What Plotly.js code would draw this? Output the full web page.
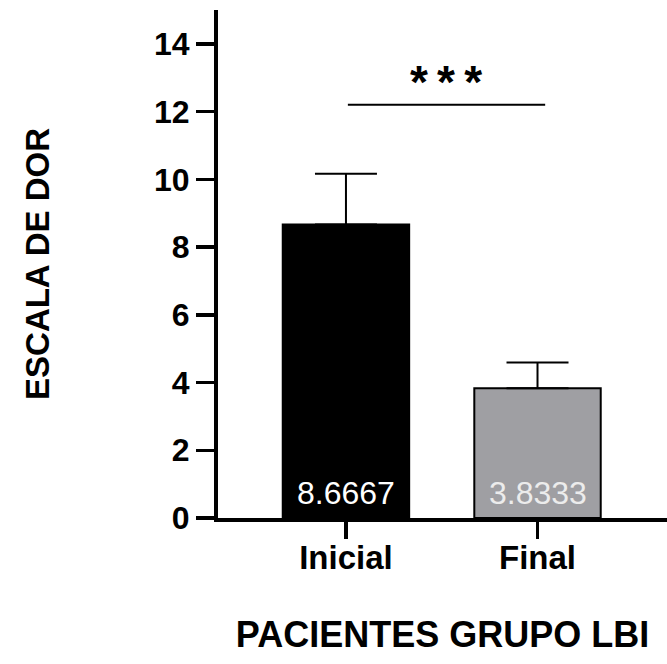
<!DOCTYPE html>
<html>
<head>
<meta charset="utf-8">
<script src="https://cdn.plot.ly/plotly-3.0.1.min.js"></script>
<style>html,body{margin:0;padding:0;background:#fff;}</style>
</head>
<body>
<div id="chart" style="width:667px;height:664px;"></div>
<script>
const categories = ["Inicial", "Final"];
const means = [8.6667, 3.8333];
const errors = [1.5, 0.76];
const valueLabels = ["8.6667", "3.8333"];
const barColors = ["#000000", "#9f9fa3"];
const labelColors = ["#ffffff", "#ececec"];
const sigY = 12.2;
const sigText = "*\u2009*\u2009*";
const yTicks = [0, 2, 4, 6, 8, 10, 12, 14];

const FONT = "Arial, 'Liberation Sans', sans-serif";

const trace = {
  type: "bar",
  x: categories,
  y: means,
  width: 0.66,
  marker: {color: barColors, line: {color: "#000", width: 2}},
  error_y: {type: "data", array: errors, symmetric: false, arrayminus: [0,0], visible: true, color: "#000", thickness: 2, width: 31},
  hoverinfo: "none"
};

const valueAnnotations = categories.map((c, i) => ({
  xref: "x", yref: "y", x: c, y: 0, yanchor: "bottom", yshift: 5,
  text: valueLabels[i], showarrow: false,
  font: {family: FONT, size: 32, color: labelColors[i]}
}));

const layout = {
  width: 667, height: 664,
  margin: {l: 218, r: 0, t: 10, b: 146},
  paper_bgcolor: "#fff", plot_bgcolor: "#fff",
  showlegend: false,
  font: {family: FONT, color: "#000"},
  xaxis: {
    range: [-0.668, 1.676],
    showline: true, linecolor: "#000", linewidth: 4,
    ticks: "outside", ticklen: 17, tickwidth: 3.5, tickcolor: "#000",
    ticklabelstandoff: -10,
    showgrid: false, zeroline: false,
    tickfont: {family: FONT, size: 33, color: "#000", weight: "bold"},
    title: {text: "<b>PACIENTES GRUPO LBI</b>", font: {family: FONT, size: 36, color: "#000"}, standoff: 48}
  },
  yaxis: {
    range: [0, 15],
    tickvals: yTicks,
    showline: true, linecolor: "#000", linewidth: 4,
    ticks: "outside", ticklen: 18, tickwidth: 3.5, tickcolor: "#000",
    showgrid: false, zeroline: false,
    tickfont: {family: FONT, size: 32, color: "#000", weight: "bold"},
    title: {text: "<b>ESCALA DE DOR</b>", font: {family: FONT, size: 33, color: "#000"}, standoff: 95}
  },
  shapes: [
    {type: "line", xref: "x", yref: "y", x0: 0.01, x1: 1.04, y0: sigY, y1: sigY, line: {color: "#000", width: 2}}
  ],
  annotations: valueAnnotations.concat([
    {xref: "x", yref: "y", x: 0.52, y: sigY, yshift: -5, text: "<b>" + sigText + "</b>", showarrow: false, yanchor: "bottom", font: {family: FONT, size: 46, color: "#000"}}
  ])
};

Plotly.newPlot("chart", [trace], layout, {displayModeBar: false, staticPlot: true});
</script>
</body>
</html>
